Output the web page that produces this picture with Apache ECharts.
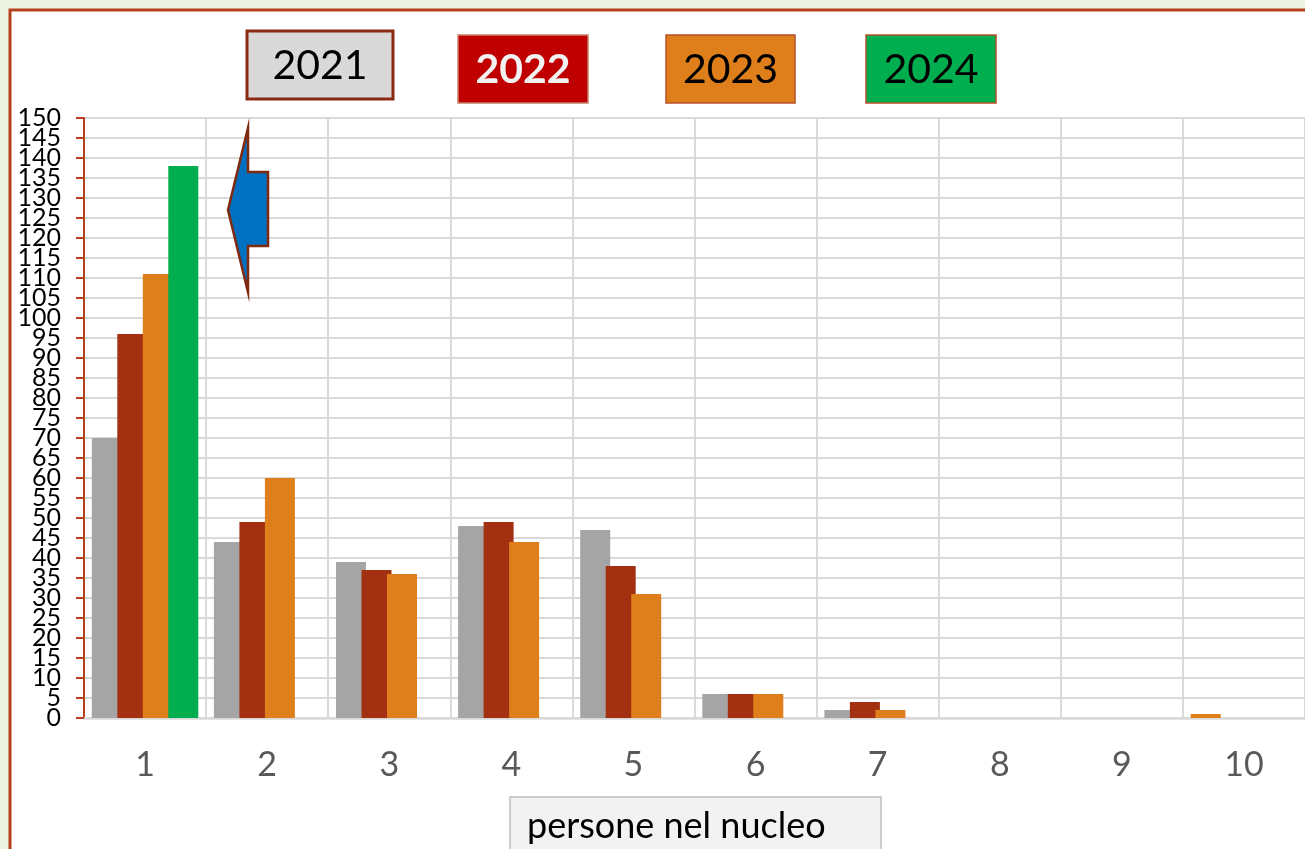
<!DOCTYPE html>
<html>
<head>
<meta charset="utf-8">
<script src="https://cdn.jsdelivr.net/npm/echarts@6/dist/echarts.min.js"></script>
<style>
  html, body { margin: 0; padding: 0; background: #eef3e1; }
  #main { width: 1305px; height: 849px; }
</style>
</head>
<body>
<div id="main"></div>
<script>
// dati: persone nel nucleo per anno
const categorie = ['1', '2', '3', '4', '5', '6', '7', '8', '9', '10'];
const anni = ['2021', '2022', '2023', '2024'];
const v2021 = [70, 44, 39, 48, 47, 6, 2, 0, 0, 1];
const v2022 = [96, 49, 37, 49, 38, 6, 4, 0, 0, 0];
const v2023 = [111, 60, 36, 44, 31, 6, 2, 0, 0, 0];
const v2024 = [138, null, null, null, null, null, null, null, null, null];
const titoloAsseX = 'persone nel nucleo';

const valori = [v2021, v2022, v2023, v2024];
const coloriBarre = ['#a5a5a5', '#a33010', '#df7f1b', '#00ae50'];
// nell'originale la barra del 10 (prima colonna) e' colorata in arancio
const coloriPunto = { '0-9': '#df7f1b' };

// riquadri della legenda (disegnati a mano come nell'originale)
const boxLegenda = [
  { x: 247, y: 31, w: 146, h: 68, fill: '#d9d9d9', stroke: '#8a2a12', lw: 3, color: '#000', weight: 'normal' },
  { x: 458, y: 35, w: 130, h: 68, fill: '#c00000', stroke: '#c8806a', lw: 1.5, color: '#f2f2f2', weight: 'bold' },
  { x: 666, y: 35, w: 129, h: 68, fill: '#df7f1b', stroke: '#b8502a', lw: 1.5, color: '#000', weight: 'normal' },
  { x: 866, y: 35, w: 130, h: 68, fill: '#00ae50', stroke: '#b8502a', lw: 1.5, color: '#000', weight: 'normal' }
];

const chart = echarts.init(document.getElementById('main'));

const graphic = [
  {
    type: 'rect', z: -100, silent: true,
    shape: { x: 10, y: 10, width: 1400, height: 900 },
    style: { fill: '#fff', stroke: '#b5401c', lineWidth: 3 }
  },
  // freccia blu
  {
    type: 'polygon', z: 100,
    shape: { points: [[248, 128], [248, 172], [268, 172], [268, 246], [248, 246], [248, 292], [228, 210]] },
    style: { fill: '#0070c0', stroke: '#7f2a10', lineWidth: 2.5 }
  },
  // titolo asse x
  {
    type: 'group', z: 100,
    children: [
      {
        type: 'rect',
        shape: { x: 510, y: 797, width: 371, height: 70 },
        style: { fill: '#f2f2f2', stroke: '#bfbfbf', lineWidth: 1.5 }
      },
      {
        type: 'text', x: 527, y: 826,
        style: { text: titoloAsseX, fill: '#000', font: '36px Lato', verticalAlign: 'middle' }
      }
    ]
  }
];

anni.forEach((anno, i) => {
  const b = boxLegenda[i];
  graphic.push({
    type: 'group', z: 100,
    children: [
      {
        type: 'rect',
        shape: { x: b.x, y: b.y, width: b.w, height: b.h },
        style: { fill: b.fill, stroke: b.stroke, lineWidth: b.lw }
      },
      {
        type: 'text', x: b.x + b.w / 2, y: b.y + b.h / 2 + 1,
        style: {
          text: anno, fill: b.color, font: b.weight + ' 41px Lato',
          align: 'center', verticalAlign: 'middle'
        }
      }
    ]
  });
});

// le etichette dell'asse y sono fitte: le divido su due assi sovrapposti
// (multipli di 10 sul primo, gli altri sul secondo) per non farle nascondere
const etichettaY = { color: '#000', fontSize: 25, fontFamily: 'Lato', margin: 23, hideOverlap: false };

const option = {
  backgroundColor: '#eef3e1',
  animation: false,
  graphic: graphic,
  grid: { left: 84, top: 118, right: 0, bottom: 131 },
  xAxis: {
    type: 'category',
    data: categorie,
    axisLine: { lineStyle: { color: '#d9d9d9', width: 2.5 } },
    axisTick: { show: false },
    axisLabel: { color: '#595959', fontSize: 34, fontFamily: 'Lato', margin: 30 },
    splitLine: { show: true, interval: 0, lineStyle: { color: '#d9d9d9', width: 2 } }
  },
  yAxis: [
    {
      type: 'value',
      min: 0,
      max: 150,
      interval: 5,
      axisLine: { show: true, lineStyle: { color: '#b5401c', width: 2 } },
      axisTick: { show: true, length: 8, lineStyle: { color: '#b5401c', width: 2 } },
      axisLabel: Object.assign({
        showMinLabel: true, showMaxLabel: true,
        formatter: (v) => (v % 10 === 0 ? String(v) : '')
      }, etichettaY),
      splitLine: { lineStyle: { color: '#d9d9d9', width: 2 } }
    },
    {
      type: 'value',
      position: 'left',
      min: 0,
      max: 150,
      interval: 5,
      axisLine: { show: false },
      axisTick: { show: false },
      axisLabel: Object.assign({
        formatter: (v) => (v % 10 === 5 ? String(v) : '')
      }, etichettaY),
      splitLine: { show: false }
    }
  ],
  series: anni.map((anno, i) => ({
    name: anno,
    type: 'bar',
    data: valori[i],
    barWidth: 30,
    barGap: '-15%',
    itemStyle: {
      color: (p) => coloriPunto[i + '-' + p.dataIndex] || coloriBarre[i]
    }
  }))
};

chart.setOption(option);
</script>
</body>
</html>
